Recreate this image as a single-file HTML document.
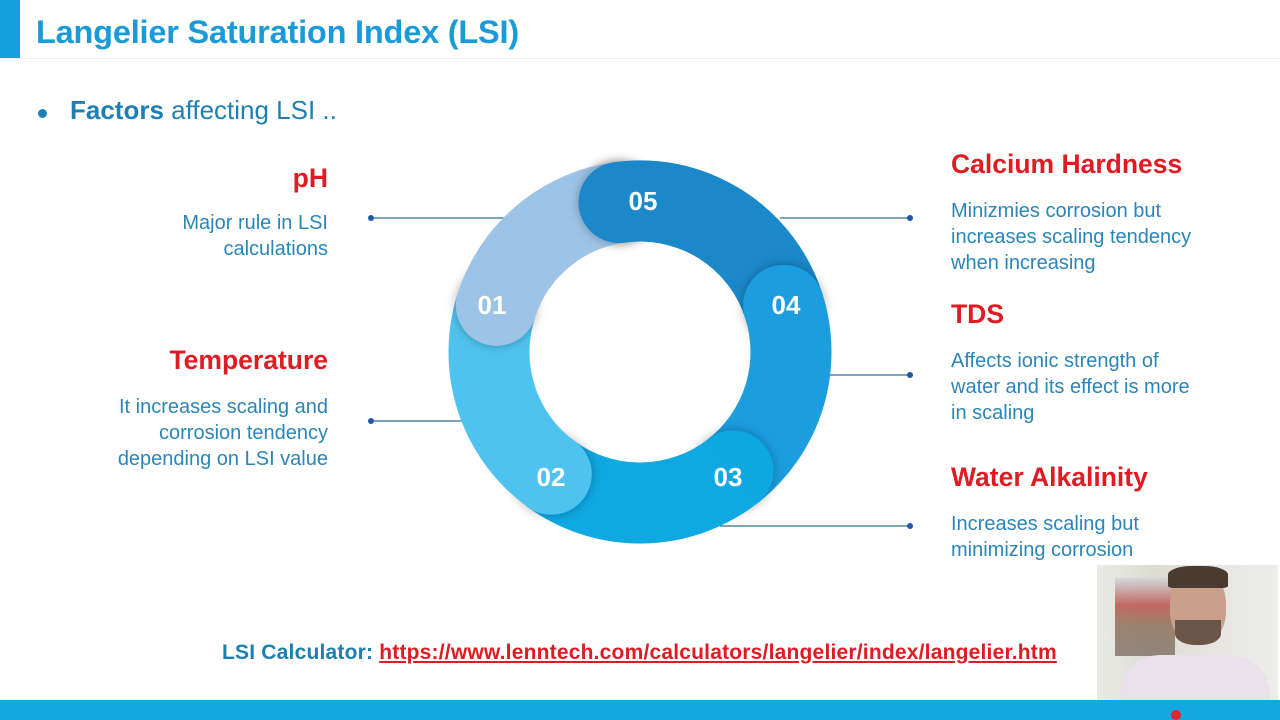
<!DOCTYPE html>
<html><head><meta charset="utf-8"><style>
body{margin:0;width:1280px;height:720px;overflow:hidden;background:#fff;font-family:"Liberation Sans",sans-serif;position:relative}
.a{position:absolute;white-space:nowrap}
.h{color:#e01b22;font-weight:bold;font-size:26.5px}
.d{color:#2a86b8;font-size:20px;line-height:26px}
.r{text-align:right}
</style></head><body>
<div class="a" style="left:0;top:0;width:20px;height:58px;background:#13a0dc"></div>
<div class="a" style="left:0;top:58px;width:1280px;height:1px;background:#eee"></div>
<div class="a" style="left:36px;top:14px;font-size:32.5px;font-weight:bold;color:#1a9ad6;letter-spacing:-0.2px">Langelier Saturation Index (LSI)</div>
<div class="a" style="left:38px;top:109px;width:9px;height:9px;border-radius:50%;background:#1d7fb3"></div>
<div class="a" style="left:70px;top:95px;font-size:26px;color:#1d7fb3"><b>Factors</b> affecting LSI ..</div>

<svg class="a" style="left:0;top:0" width="1280" height="720">
<defs><filter id="s" x="-50%" y="-50%" width="200%" height="200%"><feDropShadow dx="0" dy="0" stdDeviation="5" flood-color="#000" flood-opacity="0.3"/></filter></defs>
<g stroke="#2b6f8c" stroke-width="1.3">
<line x1="371" y1="218" x2="505" y2="218"/><line x1="371" y1="421" x2="465" y2="421"/>
<line x1="780" y1="218" x2="910" y2="218"/><line x1="828" y1="375" x2="910" y2="375"/><line x1="720" y1="526" x2="910" y2="526"/>
</g>
<g fill="#1f58a8"><circle cx="371" cy="218" r="3"/><circle cx="371" cy="421" r="3"/><circle cx="910" cy="218" r="3"/><circle cx="910" cy="375" r="3"/><circle cx="910" cy="526" r="3"/></g>
<g id="ring"></g>
<g font-family="Liberation Sans" font-weight="bold" font-size="26" fill="#fff" text-anchor="middle">
<text x="643" y="210">05</text><text x="786" y="314">04</text><text x="728" y="486">03</text><text x="551" y="486">02</text><text x="492" y="314">01</text>
</g>
</svg>
<script>
var cx=640,cy=352,R=151,W=81;
function pt(a){a=a*Math.PI/180;return [cx+R*Math.cos(a),cy+R*Math.sin(a)];}
var segs=[[262,342,'#1a88c9'],[342,412,'#1b9de0'],[412,486,'#0ea8e2'],[486,558,'#4fc3ef'],[558,622,'#9dc3e6']];
var g=document.getElementById('ring'),ns='http://www.w3.org/2000/svg';
function arc(a0,a1,col){var p=pt(a0),q=pt(a1);var e=document.createElementNS(ns,'path');
e.setAttribute('d','M'+p[0]+' '+p[1]+' A'+R+' '+R+' 0 0 1 '+q[0]+' '+q[1]);e.setAttribute('stroke',col);e.setAttribute('stroke-width',W);e.setAttribute('fill','none');g.appendChild(e);}
function cap(a,col){var p=pt(a);var c=document.createElementNS(ns,'circle');c.setAttribute('cx',p[0]);c.setAttribute('cy',p[1]);c.setAttribute('r',W/2);c.setAttribute('fill',col);c.setAttribute('filter','url(#s)');g.appendChild(c);}
segs.forEach(function(s){cap(s[0],s[2]);arc(s[0],s[1]+0.5,s[2]);});
cap(segs[0][0],segs[0][2]);arc(segs[0][0],segs[0][0]+30,segs[0][2]);
</script>

<div class="a h r" style="right:952px;top:163px">pH</div>
<div class="a d r" style="right:952px;top:210px">Major rule in LSI<br>calculations</div>
<div class="a h r" style="right:952px;top:345px">Temperature</div>
<div class="a d r" style="right:952px;top:394px">It increases scaling and<br>corrosion tendency<br>depending on LSI value</div>

<div class="a h" style="left:951px;top:149px">Calcium Hardness</div>
<div class="a d" style="left:951px;top:198px">Minizmies corrosion but<br>increases scaling tendency<br>when increasing</div>
<div class="a h" style="left:951px;top:299px">TDS</div>
<div class="a d" style="left:951px;top:348px">Affects ionic strength of<br>water and its effect is more<br>in scaling</div>
<div class="a h" style="left:951px;top:462px">Water Alkalinity</div>
<div class="a d" style="left:951px;top:511px">Increases scaling but<br>minimizing corrosion</div>

<div class="a" style="left:222px;top:641px;font-size:21px;font-weight:bold;color:#1b7fb0;letter-spacing:0.2px">LSI Calculator: <span style="color:#e01b22;text-decoration:underline">https://www.lenntech.com/calculators/langelier/index/langelier.htm</span></div>

<div class="a" style="left:1097px;top:565px;width:181px;height:135px;background:linear-gradient(90deg,#e9ebe6 0%,#dcdcd2 30%,#e6e3e0 60%,#eceee9 100%)"></div>
<div class="a" style="left:1115px;top:578px;width:60px;height:78px;background:linear-gradient(180deg,#cfd7dc 0%,#b84a44 35%,#8a6a50 60%,#7d6f66 100%);opacity:.8"></div>
<div class="a" style="left:1170px;top:570px;width:56px;height:75px;border-radius:45%;background:#c9a08a"></div>
<div class="a" style="left:1168px;top:566px;width:60px;height:22px;border-radius:40% 40% 10% 10%;background:#4a3a30"></div>
<div class="a" style="left:1175px;top:620px;width:46px;height:25px;border-radius:0 0 45% 45%;background:#6b5448"></div>
<div class="a" style="left:1120px;top:655px;width:150px;height:45px;border-radius:40px 40px 0 0;background:#e8e0ea"></div>
<div class="a" style="left:0;top:700px;width:1280px;height:20px;background:#13a8e0"></div>
<div class="a" style="left:1171px;top:710px;width:10px;height:10px;border-radius:50%;background:#e0262e"></div>
</body></html>
